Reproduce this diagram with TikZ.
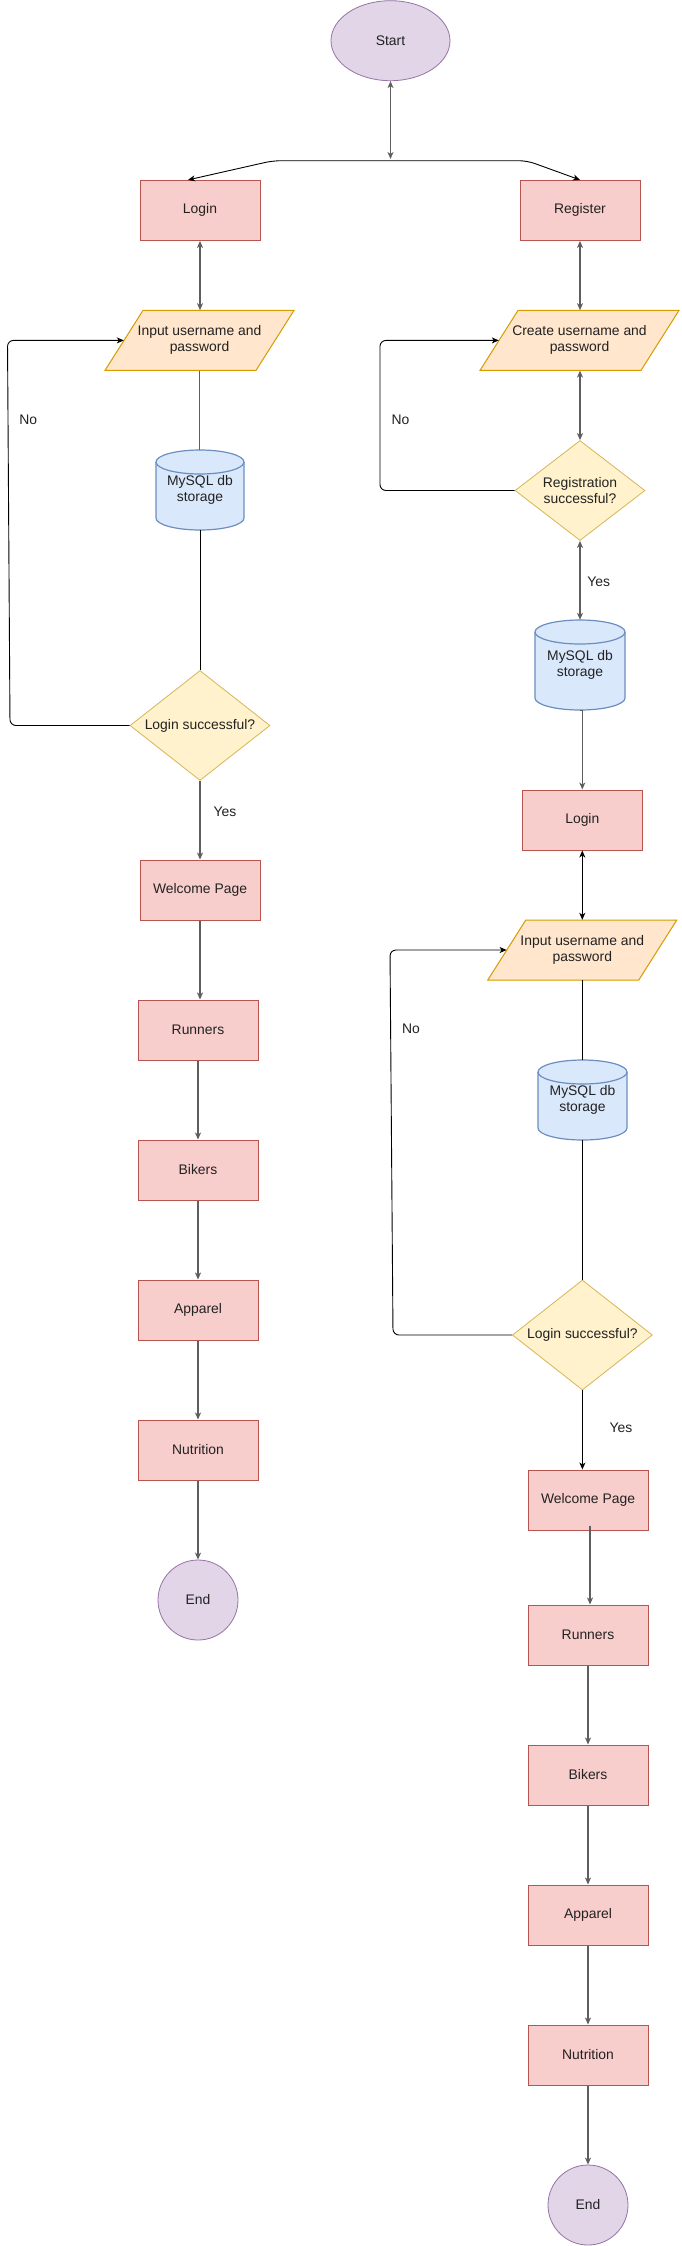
\documentclass[tikz,border=0pt]{standalone}
\usepackage{fontspec}
\setmainfont{Liberation Sans}
\usetikzlibrary{shapes.geometric,arrows.meta}
\definecolor{pfill}{HTML}{E1D5E7}
\definecolor{pline}{HTML}{9673A6}
\definecolor{rfill}{HTML}{F8CECC}
\definecolor{rline}{HTML}{B85450}
\definecolor{ofill}{HTML}{FFE6CC}
\definecolor{oline}{HTML}{D79B00}
\definecolor{yfill}{HTML}{FFF2CC}
\definecolor{yline}{HTML}{D6B656}
\definecolor{bfill}{HTML}{DAE8FC}
\definecolor{bline}{HTML}{6C8EBF}
\definecolor{txt}{HTML}{222222}
\definecolor{congray}{HTML}{5E5E5E}
% cylinder: name, x, y, width, height, text
\newcommand\mycyl[6]{%
  \path[cylshape] (#2-#4/2,#3+#5/2-12) -- (#2-#4/2,#3-#5/2+12)
    arc[start angle=180,end angle=360,x radius=#4pt/2,y radius=12pt]
    -- (#2+#4/2,#3+#5/2-12)
    arc[start angle=0,end angle=180,x radius=#4pt/2,y radius=12pt] -- cycle;
  \draw[cylshape,fill=none] (#2-#4/2,#3+#5/2-12)
    arc[start angle=180,end angle=360,x radius=#4pt/2,y radius=12pt];
  \node[inner sep=0pt,minimum width=#4pt,minimum height=#5pt,align=center] (#1) at (#2,#3) {#6};}
% parallelogram: name, x, y, edge length, text
\newcommand\mypara[5]{%
  \path[parashape] (#2-#4/2-19,#3-30) -- (#2+#4/2-19,#3-30) -- (#2+#4/2+19,#3+30) -- (#2-#4/2+19,#3+30) -- cycle;
  \node[inner sep=0pt,minimum width=#4pt,minimum height=60pt,align=center] (#1) at (#2,#3) {#5};}
\begin{document}
\begin{tikzpicture}[x=1pt,y=1pt,font=\fontsize{13.9}{16}\selectfont,text=txt,
  pagebox/.style={rectangle,draw=rline,fill=rfill,line width=1pt,minimum width=120pt,minimum height=60pt,inner sep=0pt},
  term/.style={ellipse,draw=pline,fill=pfill,line width=0.8pt,inner sep=0pt},
  decide/.style={diamond,draw=yline,fill=yfill,line width=0.8pt,inner sep=0pt,align=center},
  cylshape/.style={draw=bline,fill=bfill,line width=1.2pt},
  parashape/.style={draw=oline,fill=ofill,line width=1pt},
  gcon/.style={draw=congray,line width=1.3pt},
  bcon/.style={draw=black,line width=0.9pt},
  arr/.style={-{Stealth[length=7pt,width=6pt,inset=2pt]}},
  dblarr/.style={{Stealth[length=7pt,width=6pt,inset=2pt]}-{Stealth[length=7pt,width=6pt,inset=2pt]}},
  lbl/.style={inner sep=0pt}]
\useasboundingbox (0,0) rectangle (681,-2246);
\fill[white] (0,0) rectangle (681,-2246);

% ---------- shapes ----------
\node[term,minimum width=119pt,minimum height=80pt] (start) at (390.5,-40.7) {Start};
\node[pagebox] (login) at (200,-210.4) {Login};
\node[pagebox] (register) at (580,-210.4) {Register};
\mypara{input}{199.5}{-340.4}{151}{Input username and\\password}
\mypara{create}{579.5}{-340.4}{161}{Create username and\\password}
\mycyl{cylA}{200}{-490}{88}{80}{MySQL db\\storage}
\node[decide,minimum width=130pt,minimum height=100pt,aspect=1.3] (regok) at (580,-490.5) {Registration\\successful?};
\node[decide,minimum width=140pt,minimum height=110pt,aspect=1.27] (logokA) at (200,-725.5) {Login successful?};
\node[pagebox] (welcomeA) at (200,-890) {Welcome Page};
\node[pagebox] (runnersA) at (198,-1030) {Runners};
\node[pagebox] (bikersA) at (198,-1170) {Bikers};
\node[pagebox] (apparelA) at (198,-1310) {Apparel};
\node[pagebox] (nutritionA) at (198,-1450) {Nutrition};
\node[term,minimum width=80pt,minimum height=80pt] (endA) at (198,-1600) {End};

\mycyl{cylB}{580}{-665}{90}{90}{MySQL db\\storage}
\node[pagebox] (loginB) at (582.3,-820) {Login};
\mypara{inputB}{582.3}{-950}{151}{Input username and\\password}
\mycyl{cylC}{582.5}{-1100}{89}{80}{MySQL db\\storage}
\node[decide,minimum width=140pt,minimum height=110pt,aspect=1.27] (logokB) at (582.4,-1335) {Login successful?};
\node[pagebox] (welcomeB) at (588,-1500) {Welcome Page};
\node[pagebox] (runnersB) at (588,-1635) {Runners};
\node[pagebox] (bikersB) at (588,-1775) {Bikers};
\node[pagebox] (apparelB) at (588,-1915) {Apparel};
\node[pagebox] (nutritionB) at (588,-2055) {Nutrition};
\node[term,minimum width=80pt,minimum height=80pt] (endB) at (588,-2205) {End};

% ---------- connectors ----------
\coordinate (junc) at (390.5,-159);
\draw[gcon,dblarr] (start.south) -- (junc);
\draw[bcon,dblarr,rounded corners=8pt] ([xshift=-12pt]login.north) -- (273,-160.7) -- (527,-160.7) -- (register.north);

\draw[gcon,dblarr] (login.south) -- (login.south |- input.north);
\draw[gcon] (input.south) -- (input.south |- cylA.north);
\draw[bcon] (cylA.south) -- (cylA.south |- logokA.north);
\draw[bcon,arr,rounded corners=6pt] (logokA.west) -- (10,-725.5) -- (7.5,-340.4) -- (input.west);
\draw[gcon,arr] (logokA.south) -- (logokA.south |- welcomeA.north);
\draw[gcon,arr] (welcomeA.south) -- (welcomeA.south |- runnersA.north);
\draw[gcon,arr] (runnersA.south) -- (bikersA.north);
\draw[gcon,arr] (bikersA.south) -- (apparelA.north);
\draw[gcon,arr] (apparelA.south) -- (nutritionA.north);
\draw[gcon,arr] (nutritionA.south) -- (endA.north);

\draw[gcon,dblarr] (register.south) -- (register.south |- create.north);
\draw[gcon,dblarr] (create.south -| regok.north) -- (regok.north);
\draw[bcon,arr,rounded corners=6pt] (regok.west) -- (380,-490.5) -- (380,-340.4) -- (create.west);
\draw[gcon,dblarr] (regok.south) -- (regok.south |- cylB.north);
\draw[gcon,arr] (cylB.south) -- (cylB.south -| loginB.north) -- (loginB.north);
\draw[bcon,dblarr] (loginB.south) -- (loginB.south |- inputB.north);
\draw[bcon] (inputB.south) -- (inputB.south |- cylC.north);
\draw[bcon] (cylC.south) -- (cylC.south |- logokB.north);
\draw[bcon,arr,rounded corners=6pt] (logokB.west) -- (393,-1335) -- (390,-950) -- (inputB.west);
\draw[bcon,arr] (logokB.south) -- (logokB.south |- welcomeB.north);
\draw[gcon,arr] ([xshift=2pt,yshift=5pt]welcomeB.south) -- ([xshift=2pt]runnersB.north);
\draw[gcon,arr] (runnersB.south) -- (bikersB.north);
\draw[gcon,arr] (bikersB.south) -- (apparelB.north);
\draw[gcon,arr] (apparelB.south) -- (nutritionB.north);
\draw[gcon,arr] (nutritionB.south) -- (endB.north);

% ---------- labels ----------
\node[lbl] (noA) at (28.2,-419.6) {No};
\node[lbl] (noB) at (400.5,-420) {No};
\node[lbl] (noC) at (411,-1029) {No};
\node[lbl] (yesA) at (225,-812) {Yes};
\node[lbl] (yesB) at (598.6,-581.4) {Yes};
\node[lbl] (yesC) at (621,-1428) {Yes};
\end{tikzpicture}
\end{document}
